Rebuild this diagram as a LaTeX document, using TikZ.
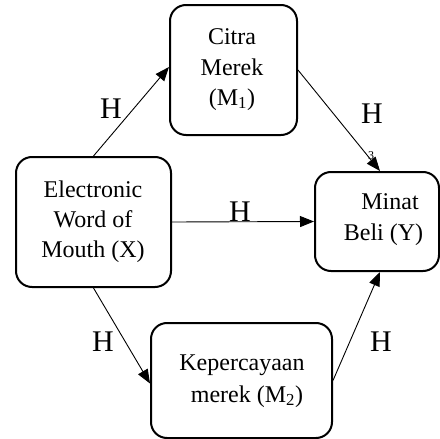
\documentclass[tikz,border=0pt]{standalone}
\usepackage{fontspec}
\setmainfont{Liberation Serif}
\usetikzlibrary{arrows.meta}
\begin{document}
\begin{tikzpicture}[x=1pt,y=-1pt,
  varbox/.style={draw, line width=2pt, rounded corners=16pt, inner sep=0pt},
  boxtext/.style={anchor=base, inner sep=0pt, font=\fontsize{24}{24}\selectfont},
  hyp/.style={inner sep=0pt, font=\fontsize{30}{30}\selectfont},
  link/.style={line width=0.9pt, -{Triangle[length=14pt,width=11pt]}}]
\useasboundingbox (0,0) rectangle (440,439);

% variable boxes
\node[varbox, minimum width=127pt, minimum height=130pt] (m1) at (233.5,70) {};
\node[varbox, minimum width=155pt, minimum height=130pt] (x) at (93.5,222) {};
\node[varbox, minimum width=124pt, minimum height=99pt] (y) at (377,221.5) {};
\node[varbox, minimum width=181pt, minimum height=115pt] (m2) at (241.5,380.5) {};

% box captions
\node[boxtext] (m1a) at (232,45) {Citra};
\node[boxtext] (m1b) at (232,75) {Merek};
\node[boxtext] (m1c) at (232,105) {(M\textsubscript{1})};
\node[boxtext] (xa) at (93,197) {Electronic};
\node[boxtext] (xb) at (93,227) {Word of};
\node[boxtext] (xc) at (93,257) {Mouth (X)};
\node[boxtext] (ya) at (390,209) {Minat};
\node[boxtext] (yb) at (383.5,240) {Beli (Y)};
\node[boxtext] (m2a) at (242,370) {Kepercayaan};
\node[boxtext] (m2b) at (247,402) {merek (M\textsubscript{2})};

% paths
\draw[link] (x.north) -- ([yshift=3pt]m1.west);
\draw[link] (m1.east) -- ([xshift=3pt]y.north);
\draw[link] (x.east) -- (y.west);
\draw[link] (x.south) -- ([yshift=-3pt]m2.west);
\draw[link] (m2.east) -- ([xshift=3pt]y.south);

% hypothesis labels
\node[hyp] (h1) at (111,109) {H};
\node[hyp] (h2) at (372,114) {H};
\node[hyp] (h3) at (240,212) {H};
\node[hyp] (h4) at (103,342) {H};
\node[hyp] (h5) at (381,342) {H};
\node[inner sep=0pt, font=\fontsize{12}{12}\selectfont] (h2n) at (371,156) {3};
\end{tikzpicture}
\end{document}
